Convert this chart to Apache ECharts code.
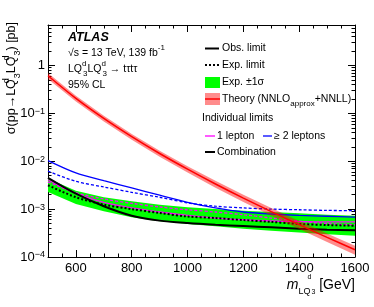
<!DOCTYPE html>
<html><head><meta charset="utf-8">
<script src="https://cdn.jsdelivr.net/npm/echarts@6/dist/echarts.min.js"></script>
<style>html,body{margin:0;padding:0;background:#fff}#c{width:374px;height:307px}</style>
</head><body><div id="c"></div>
<script>
// ---- data ----
const masses = [500,600,700,800,900,1000,1100,1200,1300,1400,1500,1600];
const theory     = [0.609,0.205,0.0783,0.0326,0.0145,0.00683,0.00335,0.00170,0.000887,0.000473,0.000257,0.000142];
const theoryUp   = [0.694,0.234,0.0893,0.0372,0.0166,0.00785,0.00389,0.00199,0.00105,0.000563,0.000308,0.000172];
const theoryDown = [0.524,0.176,0.0673,0.0280,0.0124,0.00581,0.00281,0.00141,0.000727,0.000383,0.000206,0.000112];
const obsComb = [4.5e-3,2.1e-3,1.15e-3,7.3e-4,5.75e-4,5.1e-4,4.7e-4,4.43e-4,4.16e-4,3.9e-4,3.7e-4,3.6e-4];
const expComb = [3.15e-3,1.77e-3,1.24e-3,1.0e-3,8.3e-4,7.0e-4,6.5e-4,5.9e-4,5.4e-4,4.9e-4,4.65e-4,4.5e-4];
const expUp   = [4.34e-3,2.43e-3,1.77e-3,1.46e-3,1.24e-3,1.09e-3,1.0e-3,9.3e-4,8.7e-4,8.2e-4,7.66e-4,7.3e-4];
const expDown = [2.28e-3,1.28e-3,9.0e-4,6.75e-4,5.56e-4,4.9e-4,4.37e-4,3.9e-4,3.55e-4,3.23e-4,2.97e-4,2.79e-4];
const obs1l = [4.1e-3,2.1e-3,1.39e-3,1.06e-3,8.7e-4,7.4e-4,6.5e-4,6.0e-4,5.65e-4,5.5e-4,5.4e-4,5.4e-4];
const exp1l = [3.7e-3,2.2e-3,1.63e-3,1.32e-3,1.11e-3,9.7e-4,8.7e-4,7.65e-4,6.5e-4,5.6e-4,5.0e-4,4.7e-4];
const obs2l = [1.03e-2,5.7e-3,3.94e-3,2.77e-3,1.95e-3,1.39e-3,1.06e-3,8.7e-4,7.9e-4,7.4e-4,7.1e-4,6.8e-4];
const exp2l = [6.2e-3,3.8e-3,2.9e-3,2.24e-3,1.77e-3,1.35e-3,1.15e-3,1.06e-3,1.0e-3,9.7e-4,9.4e-4,9.3e-4];
// ---- axis ticks ----
const xMajor = [600,800,1000,1200,1400,1600];
const xMinor = [550,650,700,750,850,900,950,1050,1100,1150,1250,1300,1350,1450,1500,1550];
const yMajor = [1e-4,1e-3,1e-2,1e-1,1];
const yMinor = [2e-4,3e-4,4e-4,5e-4,6e-4,7e-4,8e-4,9e-4,2e-3,3e-3,4e-3,5e-3,6e-3,7e-3,8e-3,9e-3,
                2e-2,3e-2,4e-2,5e-2,6e-2,7e-2,8e-2,9e-2,0.2,0.3,0.4,0.5,0.6,0.7,0.8,0.9,2,3,4,5,6,7];

const FONT = 'Liberation Sans, Arial, Helvetica, sans-serif';
const chart = echarts.init(document.getElementById('c'), null, {renderer:'canvas'});

function pairs(arr){ return masses.map((m,i)=>[m, arr[i]]); }
function band(lo, hi, color, z){
  return {
    type:'custom', z:z, silent:true, clip:true,
    data: masses.map((m,i)=>[m, lo[i], hi[i]]),
    encode:{x:0, y:[1,2]},
    renderItem: function(params, api){
      if (params.dataIndex !== 0) return;
      const pts = [];
      for (let i=0;i<masses.length;i++) pts.push(api.coord([masses[i], hi[i]]));
      for (let i=masses.length-1;i>=0;i--) pts.push(api.coord([masses[i], lo[i]]));
      return {type:'polygon', shape:{points:pts}, style:{fill:color}};
    }
  };
}
function line(arr, color, width, type, z){
  return {type:'line', data:pairs(arr), showSymbol:false, symbol:'none', smooth:0.3, z:z, silent:true,
    lineStyle:{color:color, width:width, type:type}};
}
function xAx(pos, ticks, len, labels){
  return {type:'value', position:pos, min:500, max:1600, interval:100,
    axisLine:{show:labels, lineStyle:{color:'#000', width:1}},
    axisTick:{show:true, inside:true, length:len, customValues:ticks, lineStyle:{color:'#000', width:1}},
    axisLabel:{show:labels && pos==='bottom', customValues:xMajor, color:'#000', fontSize:13, fontFamily:FONT, margin:5,
      formatter:function(v){ return String(v); }},
    splitLine:{show:false}};
}
function yAx(pos, ticks, len, labels){
  return {type:'log', logBase:10, position:pos, min:1e-4, max:7,
    axisLine:{show:labels, lineStyle:{color:'#000', width:1}},
    axisTick:{show:true, inside:true, length:len, customValues:ticks, lineStyle:{color:'#000', width:1}},
    axisLabel:{show:labels && pos==='left', customValues:yMajor, color:'#000', fontSize:13, fontFamily:FONT, margin:3,
      formatter:function(v){ const e=Math.round(Math.log10(v)); return e===0 ? '1' : '10{sup|\u2212'+(-e)+'}'; },
      rich:{sup:{fontSize:9, lineHeight:10, verticalAlign:'top', fontFamily:FONT, color:'#000'}}},
    splitLine:{show:false}, minorSplitLine:{show:false}};
}
const sub = {fontSize:8, lineHeight:9, verticalAlign:'bottom', fontFamily:FONT, fill:'#000'};
const sup = {fontSize:8, lineHeight:9, verticalAlign:'top', fontFamily:FONT, fill:'#000'};
const supStack = Object.assign({}, sup, {width:1});

function txt(x, y, text, size, extra){
  return Object.assign({type:'text', x:x, y:y, silent:true,
    style:Object.assign({text:text, fontSize:size, fontFamily:FONT, fill:'#000', align:'left', verticalAlign:'middle', lineHeight:size+8,
      rich:{sub:sub, sup:sup, sups:supStack}}, extra && extra.style || {})}, extra && extra.el || {});
}

const graphic = [
  // title texts
  txt(68, 38, 'ATLAS', 12.5, {style:{fontWeight:'bold', fontStyle:'italic'}}),
  txt(68, 53, '\u221As = 13 TeV, 139 fb{sup|-1}', 10.5),
  txt(68, 69, 'LQ{sups|d}{sub|3}LQ{sups|d}{sub|3} \u2192 t\u03C4t\u03C4', 10.5),
  txt(68, 85, '95% CL', 10.5),
  // legend
  {type:'line', silent:true, shape:{x1:205,y1:48.5,x2:219,y2:48.5}, style:{stroke:'#000', lineWidth:2}},
  txt(222, 48.5, 'Obs. limit', 10.5),
  {type:'line', silent:true, shape:{x1:205,y1:65,x2:219,y2:65}, style:{stroke:'#000', lineWidth:2, lineDash:[2,2]}},
  txt(222, 65, 'Exp. limit', 10.5),
  {type:'rect', silent:true, shape:{x:205,y:77,width:15,height:11}, style:{fill:'#00ff00'}},
  txt(222, 82.5, 'Exp. \u00B11\u03C3', 10.5),
  {type:'rect', silent:true, shape:{x:205,y:93,width:15,height:12}, style:{fill:'rgba(255,0,0,0.45)'}},
  {type:'line', silent:true, shape:{x1:205,y1:99,x2:220,y2:99}, style:{stroke:'#ff0000', lineWidth:1.5}},
  txt(222, 99, 'Theory (NNLO{sub|approx}+NNLL)', 10.5),
  txt(202, 118, 'Individual limits', 10.5),
  {type:'line', silent:true, shape:{x1:205,y1:136,x2:215,y2:136}, style:{stroke:'#ff00ff', lineWidth:1.3}},
  txt(217, 136, '1 lepton', 10.5),
  {type:'line', silent:true, shape:{x1:263,y1:136,x2:272,y2:136}, style:{stroke:'#0000ff', lineWidth:1.3}},
  txt(274, 136, '\u2265 2 leptons', 10.5),
  {type:'line', silent:true, shape:{x1:205,y1:152,x2:215,y2:152}, style:{stroke:'#000', lineWidth:2}},
  txt(217, 152, 'Combination', 10.5),
  // axis titles
  txt(12, 22, '\u03C3(pp\u2192LQ{sups|d}{sub|3}LQ{sups|d}{sub|3}) [pb]', 12.5,
      {style:{align:'right', rich:{sub:Object.assign({},sub,{fontSize:9}), sups:Object.assign({},supStack,{fontSize:9})}}, el:{rotation:Math.PI/2}}),
  txt(355, 285, '{m|m}{s|LQ}{ss|d}{s3|3} [GeV]', 14,
      {style:{align:'right', rich:{m:{fontStyle:'italic', fontSize:14, fontFamily:FONT, fill:'#000'},
        s:{fontSize:9, lineHeight:9, verticalAlign:'bottom', fontFamily:FONT, fill:'#000'},
        ss:{fontSize:7, lineHeight:8, verticalAlign:'top', fontFamily:FONT, fill:'#000', width:1},
        s3:{fontSize:7, lineHeight:7, verticalAlign:'bottom', fontFamily:FONT, fill:'#000'}}}})
];

chart.setOption({
  animation:false,
  backgroundColor:'#fff',
  grid:{left:48, right:19, top:25, bottom:50},
  xAxis:[xAx('bottom', xMajor, 7, true), xAx('bottom', xMinor, 3.5, false), xAx('top', xMajor, 7, true), xAx('top', xMinor, 3.5, false)],
  yAxis:[yAx('left', yMajor, 7, true), yAx('left', yMinor, 3.5, false), yAx('right', yMajor, 7, true), yAx('right', yMinor, 3.5, false)],
  series:[
    band(expDown, expUp, '#00ff00', 1),
    line(exp2l, '#0000ff', 1.3, [3,2], 3),
    line(obs2l, '#0000ff', 1.3, 'solid', 3),
    line(exp1l, '#ff00ff', 1.3, [3,2], 3),
    line(obs1l, '#ff00ff', 1.3, 'solid', 3),
    line(expComb, '#000', 2, [2,2], 4),
    line(obsComb, '#000', 2, 'solid', 4),
    band(theoryDown, theoryUp, 'rgba(255,0,0,0.45)', 5),
    line(theory, '#ff0000', 1.5, 'solid', 6)
  ],
  graphic: graphic
});
</script></body></html>
